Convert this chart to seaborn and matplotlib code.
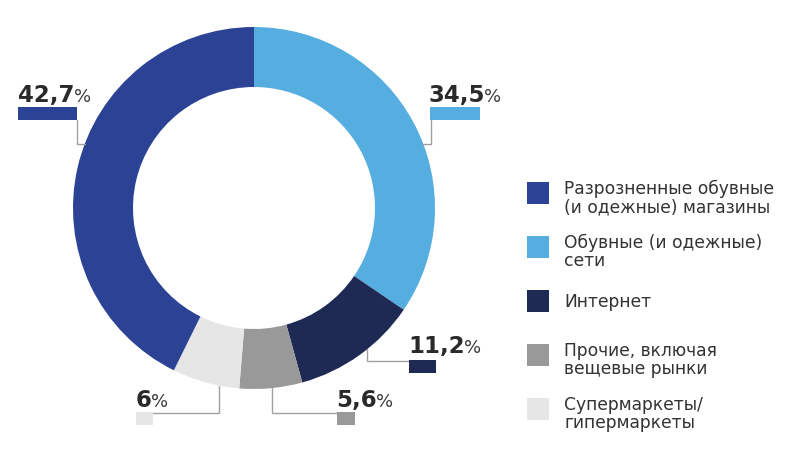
import numpy as np
import matplotlib
matplotlib.use("Agg")
import matplotlib.pyplot as plt
import seaborn as sns
from matplotlib.patches import Rectangle

sns.set_theme(style="white")
plt.rcParams['font.family'] = ['DejaVu Sans']

# ---- data ----
categories = [
    "Обувные (и одежные)\nсети",
    "Интернет",
    "Прочие, включая\nвещевые рынки",
    "Супермаркеты/\nгипермаркеты",
    "Разрозненные обувные\n(и одежные) магазины",
]
values = [34.5, 11.2, 5.6, 6.0, 42.7]
value_labels = ["34,5", "11,2", "5,6", "6", "42,7"]
colors = ["#55ADE0", "#1E2A54", "#999999", "#E6E6E6", "#2C4295"]
legend_order = [4, 0, 1, 2, 3]

# ---- layout (pixel coordinates, y down) ----
W, H = 793, 460
cx, cy, R, RW = 254, 209, 181, 60

fig = plt.figure(figsize=(W / 100, H / 100), dpi=100)
ax = fig.add_axes([0, 0, 1, 1])

wedges, _ = ax.pie(values, colors=colors, center=(cx, cy), radius=R,
                   startangle=-90, counterclock=True,
                   wedgeprops=dict(width=RW, edgecolor="none"))
ax.set_xlim(0, W)
ax.set_ylim(H, 0)
ax.set_aspect("auto")
ax.axis("off")

# label layout: text pos, bar rect, bar connection, path kind, line coordinate
label_layout = [
    dict(tx=428, ty=102, bar=(430, 108, 50, 13), conn=(431, 121), kind="h", line=145, side=1),
    dict(tx=408, ty=353, bar=(409, 361, 27, 13), conn=(409, 362), kind="v", line=367, side=1),
    dict(tx=336, ty=407, bar=(337, 413, 18, 13), conn=(337, 414), kind="v", line=272, side=1),
    dict(tx=136, ty=407, bar=(136, 413, 17, 13), conn=(153, 414), kind="v", line=219, side=1),
    dict(tx=18, ty=102, bar=(18, 108, 59, 13), conn=(77, 121), kind="h", line=145, side=-1),
]

fig.canvas.draw()
renderer = fig.canvas.get_renderer()
line_color = "#A0A0A0"
for i, lay in enumerate(label_layout):
    x0, y0, w, h = lay["bar"]
    ax.add_patch(Rectangle((x0, y0), w, h, color=colors[i], lw=0, zorder=3))
    bx, by = lay["conn"]
    if lay["kind"] == "h":
        ly = lay["line"]
        dx = np.sqrt(R ** 2 - (ly - cy) ** 2)
        ax_x = cx + lay["side"] * dx
        ax.plot([bx, bx, ax_x], [by, ly, ly], color=line_color, lw=1, zorder=2)
    else:
        lx = lay["line"]
        dy = np.sqrt(R ** 2 - (lx - cx) ** 2)
        ay = cy + dy
        ax.plot([bx, lx, lx], [by, by, ay], color=line_color, lw=1, zorder=2, solid_joinstyle="miter")
    t = ax.text(lay["tx"], lay["ty"], value_labels[i], fontsize=16.5, fontweight="bold",
                color="#2A2A2A", ha="left", va="baseline")
    bb = t.get_window_extent(renderer)
    inv = ax.transData.inverted()
    xr = inv.transform((bb.x1, bb.y0))[0]
    ax.text(xr - 0.5, lay["ty"], "%", fontsize=13, color="#3A3A3A",
            ha="left", va="baseline")

# legend (manual)
sq = 22
top0 = 183
step = 54
for k, idx in enumerate(legend_order):
    top = top0 + k * step
    ax.add_patch(Rectangle((527, top), sq, sq, color=colors[idx], lw=0))
    nlines = categories[idx].count("\n") + 1
    ax.text(564, top + sq / 2 + (4 if nlines > 1 else 0), categories[idx], fontsize=12.3,
            color="#333333", ha="left", va="center", linespacing=1.05)

fig.savefig("out.png", dpi=100)
